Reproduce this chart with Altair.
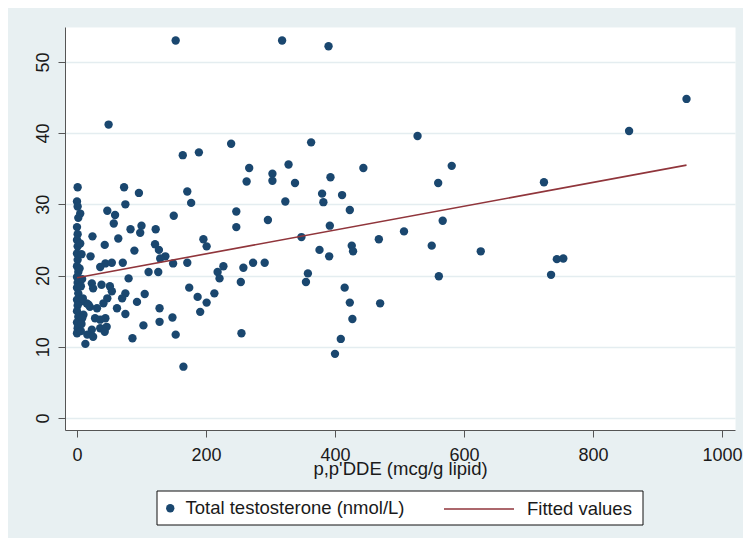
import altair as alt
import pandas as pd

# ---- data ----
dde = [
    318, 390, 363, 528, 328, 444, 581, 338, 393, 560, 724, 323, 380, 382, 411, 423, 392, 567, 348, 468,
    507, 376, 391, 426, 428, 550, 626, 744, 754, 358, 355, 561, 735, 415, 423, 470, 427, 409, 400, 945, 856,
    153, 164, 189, 239, 267, 303, 263, 303, 171, 177, 150, 247, 247, 296, 196, 201, 149, 171, 227, 218,
    221, 258, 273, 291, 254, 174, 187, 213, 201, 191, 148, 153, 255, 165,
    49, 73, 96, 75, 47, 59, 57, 83, 100, 98, 122, 24, 64, 43, 89, 121, 127, 21, 137, 129, 44, 54, 71, 36,
    80, 111, 126, 51, 54, 38, 23, 25, 75, 70, 47, 41, 93, 105, 62, 75, 128, 128, 103, 86, 28, 44, 36, 23,
    16, 13, 25, 46, 43, 36, 15, 20, 5, 18, 31, 10, 5,
    1, 0, 1, 2, 0, 1, 0, 1, 0, 1, 0, 2, 0, 1, 0, 2, 0, 1, 0, 2, 0, 1, 0,
    7, 8, 6, 8, 7, 6, 9, 4, 5,
]
testo = [
    53.0, 52.2, 38.7, 39.6, 35.6, 35.1, 35.4, 33.0, 33.8, 33.0, 33.1, 30.4, 31.5, 30.3, 31.3, 29.2, 27.0, 27.7, 25.4, 25.1,
    26.2, 23.6, 22.7, 24.2, 23.4, 24.2, 23.4, 22.3, 22.4, 20.3, 19.1, 19.9, 20.1, 18.3, 16.2, 16.1, 13.9, 11.1, 9.0, 44.8, 40.3,
    53.0, 36.9, 37.3, 38.5, 35.1, 34.3, 33.2, 33.3, 31.8, 30.2, 28.4, 29.0, 26.8, 27.8, 25.1, 24.1, 21.7, 21.8, 21.3, 20.5,
    19.6, 21.1, 21.8, 21.8, 19.1, 18.3, 17.0, 17.5, 16.2, 14.9, 14.1, 11.7, 11.9, 7.2,
    41.2, 32.4, 31.6, 30.0, 29.1, 28.5, 27.3, 26.5, 27.0, 26.0, 26.5, 25.5, 25.2, 24.3, 23.5, 24.4, 23.6, 22.7, 22.7, 22.4, 21.7, 21.8, 21.8, 21.2,
    19.6, 20.5, 20.5, 18.5, 17.8, 18.7, 18.9, 18.2, 17.5, 16.8, 16.8, 16.1, 16.3, 17.4, 15.4, 14.6, 15.4, 13.5, 13.0, 11.2, 14.0, 14.0, 12.6, 12.4,
    11.7, 10.4, 11.4, 12.8, 12.1, 13.8, 16.1, 15.6, 16.3, 15.9, 15.4, 14.5, 28.7,
    32.4, 30.4, 29.7, 28.1, 26.8, 25.8, 25.0, 24.1, 23.1, 22.2, 21.3, 20.5, 19.8, 19.0, 18.3, 17.5, 16.6, 15.8, 15.0, 14.2, 13.4, 12.6, 11.9,
    23.0, 19.5, 18.5, 14.0, 13.2, 12.2, 16.8, 21.0, 24.5,
]
fit_dde = [0, 945]
fit_testo = [19.7, 35.5]
x_ticks = [0, 200, 400, 600, 800, 1000]
y_ticks = [0, 10, 20, 30, 40, 50]
series_pts = "Total testosterone (nmol/L)"
series_fit = "Fitted values"
x_title = "p,p'DDE (mcg/g lipid)"

NAVY = "#1a476f"
MAROON = "#90353b"
BG = "#e8f0f2"
GRID = "#e4edf0"
AXIS = "#555555"
TXT = "#1a1a1a"
FONT = "Liberation Sans, Arial, Helvetica, sans-serif"

pts = pd.DataFrame({"dde": dde, "testo": testo, "s1": [series_pts] * len(dde)})
fit = pd.DataFrame({"dde": fit_dde, "testo": fit_testo, "s2": [series_fit] * len(fit_dde)})
box = pd.DataFrame({"k": [0]})

xs = alt.Scale(domain=[-18.6, 1020.2], nice=False, zero=False)
ys = alt.Scale(domain=[-1.69, 54.9], nice=False, zero=False)

xaxis = alt.Axis(
    values=x_ticks, format="d", grid=False, domainColor=AXIS, domainWidth=1, tickColor=AXIS,
    tickWidth=1, tickSize=7, labelFont=FONT, labelFontSize=18, labelColor=TXT, labelPadding=9,
    labelFlush=False, labelOverlap=False, title=x_title, titleFont=FONT, titleFontSize=18.5,
    titleFontWeight="normal", titleColor=TXT, titleY=44, titleBaseline="alphabetic",
)
yaxis = alt.Axis(
    values=y_ticks, format="d", grid=True, gridColor=GRID, gridWidth=1.5, domainColor=AXIS,
    domainWidth=1, tickColor=AXIS, tickWidth=1, tickSize=7, labelAngle=270, labelAlign="center",
    labelBaseline="alphabetic", labelPadding=10, labelFont=FONT, labelFontSize=18,
    labelColor=TXT, labelFlush=False, labelOverlap=False, title="",
)

frame = alt.Chart(box).mark_rect(fill="white", stroke="#111111", strokeWidth=1).encode(
    x=alt.value(92), x2=alt.value(578), y=alt.value(464), y2=alt.value(498)
)

points = alt.Chart(pts).mark_circle(size=70, opacity=1).encode(
    x=alt.X("dde:Q", scale=xs, axis=xaxis),
    y=alt.Y("testo:Q", scale=ys, axis=yaxis),
    color=alt.Color(
        "s1:N",
        scale=alt.Scale(domain=[series_pts], range=[NAVY]),
        legend=alt.Legend(
            orient="none", legendX=96, legendY=472, title="", padding=0,
            symbolType="circle", symbolSize=70, symbolOpacity=1,
            labelFont=FONT, labelFontSize=18.5, labelColor=TXT, labelOffset=6,
            labelLimit=400,
        ),
    ),
)

line = alt.Chart(fit).mark_line(strokeWidth=1.6).encode(
    x=alt.X("dde:Q", scale=xs),
    y=alt.Y("testo:Q", scale=ys),
    stroke=alt.Stroke(
        "s2:N",
        scale=alt.Scale(domain=[series_fit], range=[MAROON]),
        legend=alt.Legend(
            orient="none", legendX=378, legendY=446, title="", padding=0,
            symbolType="stroke", symbolSize=4900, symbolStrokeWidth=1.6,
            labelFont=FONT, labelFontSize=18.5, labelColor=TXT, labelOffset=12,
            labelLimit=400,
        ),
    ),
)

chart = alt.layer(frame, points, line).properties(
    width=670,
    height=403,
    autosize=alt.AutoSizeParams(type="none"),
    padding={"left": 57, "top": 19, "right": 8, "bottom": 108},
    background=BG,
).configure_view(fill="white", stroke="transparent")

chart.save("out.html", embed_options={"renderer": "svg", "actions": False})
